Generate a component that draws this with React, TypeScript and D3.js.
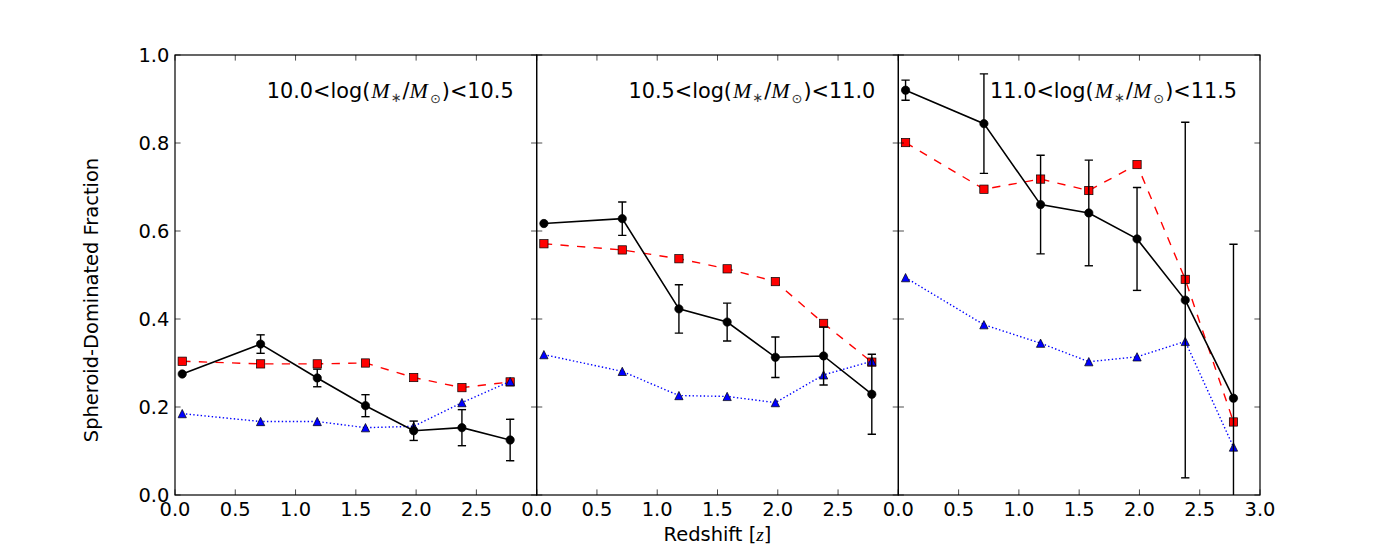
import React from "react";
import * as d3 from "d3";

const redshift = [0.06, 0.71, 1.18, 1.58, 1.98, 2.38, 2.78];
const massBins = [
  ["10.0", "10.5"],
  ["10.5", "11.0"],
  ["11.0", "11.5"],
];
const blackVals = [
  [0.275, 0.343, 0.266, 0.203, 0.146, 0.153, 0.125],
  [0.617, 0.628, 0.423, 0.393, 0.313, 0.316, 0.229],
  [0.92, 0.844, 0.66, 0.641, 0.582, 0.443, 0.22],
];
const blackErr = [
  [0.0, 0.021, 0.02, 0.025, 0.022, 0.041, 0.047],
  [0.0, 0.038, 0.055, 0.043, 0.046, 0.066, 0.091],
  [0.023, 0.113, 0.112, 0.12, 0.117, 0.404, 0.35],
];
const redVals = [
  [0.304, 0.298, 0.298, 0.3, 0.267, 0.244, 0.257],
  [0.571, 0.557, 0.537, 0.514, 0.485, 0.39, 0.302],
  [0.801, 0.695, 0.718, 0.692, 0.751, 0.49, 0.166],
];
const blueVals = [
  [0.185, 0.167, 0.167, 0.153, 0.156, 0.21, 0.258],
  [0.319, 0.281, 0.226, 0.224, 0.21, 0.273, 0.304],
  [0.494, 0.387, 0.345, 0.303, 0.314, 0.349, 0.109],
];
const xTicks = [0, 0.5, 1.0, 1.5, 2.0, 2.5, 3.0];
const yTicks = [0, 0.2, 0.4, 0.6, 0.8, 1.0];

const W = 1400;
const H = 550;
const AX_L = 175;
const AX_R = 1260;
const AX_T = 55;
const AX_B = 495;
const FONT = "'DejaVu Sans', sans-serif";
const FS = 19.44;
const AFS = 20.8;
const TICK = 5.6;
const MATH = "'Liberation Serif', 'DejaVu Serif', serif";

export default function App() {
  const pw = (AX_R - AX_L) / 3;
  const y = d3.scaleLinear().domain([0, 1]).range([AX_B, AX_T]);
  const ms = 8.3;

  return (
    <svg
      width={W}
      height={H}
      style={{ position: "absolute", left: 0, top: 0, background: "#fff" }}
      fontFamily={FONT}
    >
      <rect x={0} y={0} width={W} height={H} fill="#fff" />
      <defs>
        {[0, 1, 2].map((i) => (
          <clipPath id={`clip${i}`} key={i}>
            <rect x={AX_L + i * pw} y={AX_T} width={pw} height={AX_B - AX_T} />
          </clipPath>
        ))}
      </defs>
      {[0, 1, 2].map((i) => {
        const x0 = AX_L + i * pw;
        const x = d3.scaleLinear().domain([0, 3]).range([x0, x0 + pw]);
        const line = d3
          .line<number>()
          .x((_, k) => x(redshift[k]))
          .y((d) => y(d));
        const labels = i === 2 ? xTicks : xTicks.slice(0, 6);
        return (
          <g key={i}>
            <g clipPath={`url(#clip${i})`}>
              <path
                d={line(redVals[i]) || ""}
                fill="none"
                stroke="#ff0000"
                strokeWidth={1.4}
                strokeDasharray="8.3,8.3"
              />
              {redVals[i].map((v, k) => (
                <rect
                  key={k}
                  x={x(redshift[k]) - ms / 2}
                  y={y(v) - ms / 2}
                  width={ms}
                  height={ms}
                  fill="#ff0000"
                  stroke="#000"
                  strokeWidth={0.7}
                />
              ))}
              <path
                d={line(blueVals[i]) || ""}
                fill="none"
                stroke="#0000ff"
                strokeWidth={1.4}
                strokeDasharray="1.4,2.3"
              />
              {blueVals[i].map((v, k) => {
                const cx = x(redshift[k]);
                const cy = y(v);
                const h = ms / 2;
                return (
                  <path
                    key={k}
                    d={`M${cx},${cy - h}L${cx - h},${cy + h}L${cx + h},${cy + h}Z`}
                    fill="#0000ff"
                    stroke="#000"
                    strokeWidth={0.7}
                  />
                );
              })}
              {blackVals[i].map((v, k) => {
                const e = blackErr[i][k];
                if (!e) return null;
                const cx = x(redshift[k]);
                const yt = y(v + e);
                const yb = y(v - e);
                return (
                  <g key={k} stroke="#000" strokeWidth={1.4}>
                    <line x1={cx} x2={cx} y1={yt} y2={yb} />
                    <line x1={cx - 4.15} x2={cx + 4.15} y1={yt} y2={yt} />
                    <line x1={cx - 4.15} x2={cx + 4.15} y1={yb} y2={yb} />
                  </g>
                );
              })}
              <path
                d={line(blackVals[i]) || ""}
                fill="none"
                stroke="#000"
                strokeWidth={1.6}
              />
              {blackVals[i].map((v, k) => (
                <circle
                  key={k}
                  cx={x(redshift[k])}
                  cy={y(v)}
                  r={ms / 2}
                  fill="#000"
                  stroke="#000"
                  strokeWidth={0.7}
                />
              ))}
            </g>
            <rect
              x={x0}
              y={AX_T}
              width={pw}
              height={AX_B - AX_T}
              fill="none"
              stroke="#000"
              strokeWidth={1.2}
            />
            {xTicks.map((t) => (
              <g key={t} stroke="#000" strokeWidth={0.7}>
                <line x1={x(t)} x2={x(t)} y1={AX_B} y2={AX_B - TICK} />
                <line x1={x(t)} x2={x(t)} y1={AX_T} y2={AX_T + TICK} />
              </g>
            ))}
            {labels.map((t) => (
              <text
                key={t}
                x={x(t)}
                y={516}
                textAnchor="middle"
                fontSize={FS}
                fill="#000"
              >
                {t.toFixed(1)}
              </text>
            ))}
            {yTicks.map((t) => (
              <g key={t} stroke="#000" strokeWidth={0.7}>
                <line x1={x0} x2={x0 + TICK} y1={y(t)} y2={y(t)} />
                <line x1={x0 + pw} x2={x0 + pw - TICK} y1={y(t)} y2={y(t)} />
              </g>
            ))}
            {i === 0 &&
              yTicks.map((t) => (
                <text
                  key={t}
                  x={AX_L - 5.6}
                  y={y(t) + 7}
                  textAnchor="end"
                  fontSize={FS}
                  fill="#000"
                >
                  {t.toFixed(1)}
                </text>
              ))}
            <text
              x={x0 + pw - 23}
              y={98}
              textAnchor="end"
              fontSize={AFS}
              fill="#000"
            >
              {massBins[i][0]}&lt;log(
              <tspan fontFamily={MATH} fontStyle="italic" fontSize={22} dx={1}>
                M
              </tspan>
              <tspan fontSize={13} dy={4} dx={1} fill="#333">
                ∗
              </tspan>
              <tspan dy={-4} dx={1}>/</tspan>
              <tspan fontFamily={MATH} fontStyle="italic" fontSize={22}>
                M
              </tspan>
              <tspan fontSize={13} dy={5} dx={2} fill="#333">
                ⊙
              </tspan>
              <tspan dy={-5} dx={1}>)&lt;{massBins[i][1]}</tspan>
            </text>
          </g>
        );
      })}
      <text
        x={(AX_L + AX_R) / 2}
        y={541}
        textAnchor="middle"
        fontSize={FS}
        fill="#000"
      >
        Redshift [
        <tspan fontFamily={MATH} fontStyle="italic">
          z
        </tspan>
        ]
      </text>
      <text
        transform={`translate(98,300) rotate(-90)`}
        textAnchor="middle"
        fontSize={FS}
        fill="#000"
      >
        Spheroid-Dominated Fraction
      </text>
    </svg>
  );
}
